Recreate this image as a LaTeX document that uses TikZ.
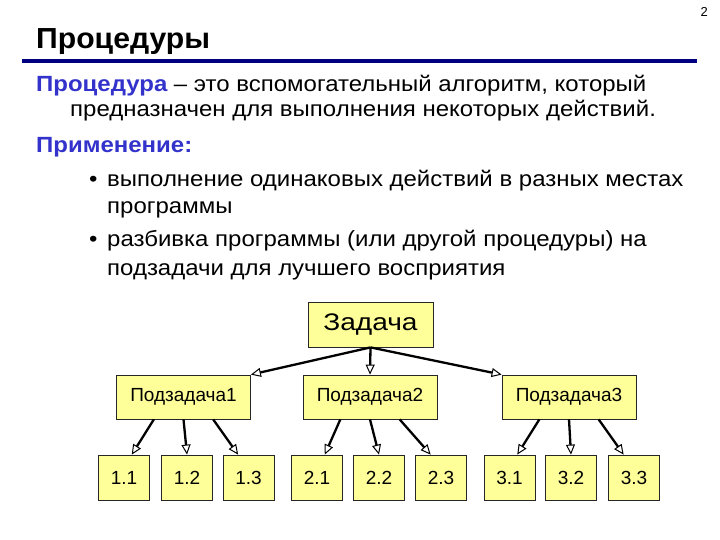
\documentclass[tikz,border=0pt]{standalone}
\usepackage{fontspec}
\setmainfont{Liberation Sans}
\newfontfamily\bodyfont{Liberation Sans}[FakeStretch=1.09]
\newfontfamily\ttlfont{Liberation Sans}[FakeStretch=1.04]
\newfontfamily\taskfont{Liberation Sans}[FakeStretch=1.17]
\usetikzlibrary{calc,arrows.meta}
\definecolor{ttlblue}{RGB}{0,0,128}
\definecolor{kwblue}{RGB}{51,51,204}
\definecolor{boxyellow}{RGB}{255,255,153}

\begin{document}
\begin{tikzpicture}[x=1pt,y=-1pt,
		txt/.style={anchor=base west, inner sep=0pt, font=\bodyfont\fontsize{22}{22}\selectfont},
		kw/.style={txt, text=kwblue, font=\bodyfont\fontsize{22}{22}\selectfont\bfseries},
		box/.style={draw=black!85, fill=boxyellow, inner sep=0pt, line width=0.8pt},
		leaf/.style={box, minimum width=51pt, minimum height=45pt, font=\fontsize{19}{19}\selectfont},
		subbox/.style={box, minimum width=134pt, minimum height=44pt, font=\fontsize{19}{19}\selectfont},
		arr/.style={line width=2.3pt, -{Triangle[open, length=10pt, width=9pt, line width=1pt]}}]
	\useasboundingbox (0,0) rectangle (720,540);
	% title
	\node[anchor=base east, inner sep=0pt, font=\fontsize{13}{13}\selectfont] (num) at (708,17) {2};
	\node[anchor=base west, inner sep=0pt, font=\ttlfont\fontsize{29}{29}\selectfont\bfseries] (ttl) at (36,49) {Процедуры};
	\draw[ttlblue, line width=3.5pt] (22,61) -- (697,61);
	% text
	\node[txt] (def1) at (36,92) {\textcolor{kwblue}{\bfseries Процедура} – это вспомогательный алгоритм, который};
	\node[txt] (def2) at (70,117) {предназначен для выполнения некоторых действий.};
	\node[kw] (use) at (36,153) {Применение:};
	\node[txt] (dot1) at (89,187) {•};
	\node[txt] (use1) at (107,187) {выполнение одинаковых действий в разных местах};
	\node[txt] (use1b) at (107,214) {программы};
	\node[txt] (dot2) at (89,247) {•};
	\node[txt] (use2) at (107,247) {разбивка программы (или другой процедуры) на};
	\node[txt] (use2b) at (107,275) {подзадачи для лучшего восприятия};
	% tree
	\node[box, minimum width=125pt, minimum height=45pt, font=\taskfont\fontsize{24}{24}\selectfont] (task) at (370.5,324.5) {Задача};
	\node[subbox] (sub1) at (183.5,397) {Подзадача1};
	\node[subbox] (sub2) at (370,397) {Подзадача2};
	\node[subbox] (sub3) at (569,397) {Подзадача3};
	\foreach \n/\lab/\x in {11/1.1/124,12/1.2/187,13/1.3/248.5,21/2.1/317,22/2.2/379,23/2.3/441,31/3.1/509.5,32/3.2/571,33/3.3/634}
		\node[leaf] (l\n) at (\x,477.5) {\lab};
	\draw[arr] (task.south) -- (sub1.north east);
	\draw[arr] (task.south) -- (sub2.north);
	\draw[arr] (task.south) -- (sub3.north west);
	\foreach \s in {1,2,3}{
		\draw[arr] ($(sub\s.south west)!0.28!(sub\s.south east)$) -- ($(l\s1.north west)!0.65!(l\s1.north east)$);
		\draw[arr] (sub\s.south) -- (l\s2.north);
		\draw[arr] ($(sub\s.south west)!0.72!(sub\s.south east)$) -- ($(l\s3.north west)!0.3!(l\s3.north east)$);
	}
\end{tikzpicture}
\end{document}
